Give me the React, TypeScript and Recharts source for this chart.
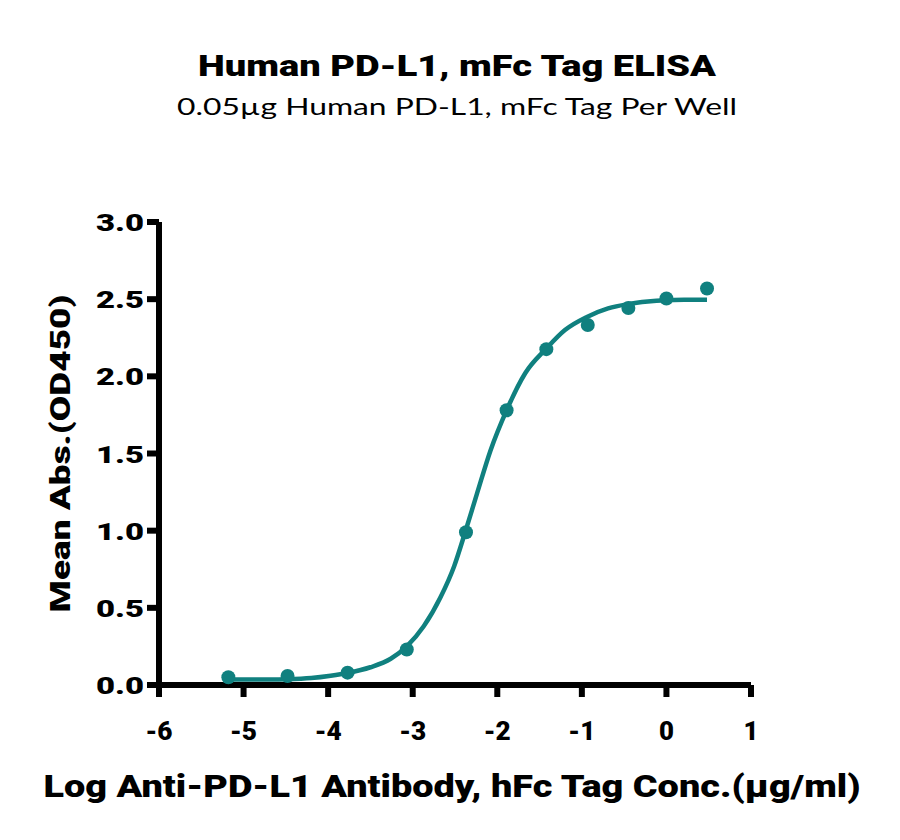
import React from "react";
import { ComposedChart, Line, Scatter, XAxis, YAxis, Label } from "recharts";

// measured ELISA points (log conc vs OD450)
const pointX = [-5.18, -4.48, -3.77, -3.07, -2.37, -1.89, -1.42, -0.93, -0.45, 0.0, 0.48];
const pointY = [0.05, 0.058, 0.08, 0.23, 0.99, 1.78, 2.176, 2.333, 2.443, 2.504, 2.569];

// fitted curve
const curveX = [
  -5.18, -4.8, -4.48, -4.2, -3.97, -3.77, -3.5, -3.26, -3.07, -2.87, -2.67, -2.51, -2.38,
  -2.24, -2.08, -1.89, -1.67, -1.42, -1.2, -0.94, -0.69, -0.46, -0.22, 0, 0.25, 0.48,
];
const curveY = [
  0.035, 0.036, 0.038, 0.045, 0.06, 0.078, 0.115, 0.17, 0.25, 0.38, 0.57, 0.77, 0.99,
  1.24, 1.52, 1.78, 2.02, 2.18, 2.3, 2.385, 2.44, 2.468, 2.485, 2.493, 2.496, 2.497,
];

const xTicks = [-6, -5, -4, -3, -2, -1, 0, 1];
const yTicks = [0, 0.5, 1, 1.5, 2, 2.5, 3];

const TEAL = "#10807f";
const BOLD = "Roboto, 'Noto Sans', sans-serif";
const FONT = "Lato, 'Noto Sans', sans-serif";

const points = pointX.map((x, i) => ({ x, y: pointY[i] }));
const curve = curveX.map((x, i) => ({ x, y: curveY[i] }));

const XTick = (props: any) => {
  const { x, y, payload } = props;
  const label = String(payload.value);
  return (
    <text
      x={x}
      y={y + 43}
      textAnchor="middle"
      fontFamily={BOLD}
      fontWeight={900}
      fontSize={25}
      fill="#000"
      textLength={label.length > 1 ? 27 : 15}
      lengthAdjust="spacingAndGlyphs"
    >
      {label}
    </text>
  );
};

const YTick = (props: any) => {
  const { x, y, payload } = props;
  return (
    <text
      x={x}
      y={y + 9}
      textAnchor="end"
      fontFamily={BOLD}
      fontWeight={900}
      fontSize={24}
      fill="#000"
      textLength={48}
      lengthAdjust="spacingAndGlyphs"
    >
      {payload.value.toFixed(1)}
    </text>
  );
};

const Dot = (props: any) => <circle cx={props.cx} cy={props.cy} r={7} fill={TEAL} />;

const axisStroke = { stroke: "#000", strokeWidth: 6 };

export default function App() {
  return (
    <div style={{ position: "absolute", left: 0, top: 0, width: 900, height: 840, background: "#fff" }}>
      <svg width={900} height={130} style={{ position: "absolute", left: 0, top: 0 }}>
        <text
          x={457}
          y={76}
          textAnchor="middle"
          fontFamily={BOLD}
          fontWeight={900}
          fontSize={29}
          textLength={518}
          lengthAdjust="spacingAndGlyphs"
        >
          Human PD-L1, mFc Tag ELISA
        </text>
        <text
          x={457}
          y={115}
          textAnchor="middle"
          fontFamily={FONT}
          fontSize={24}
          textLength={560}
          lengthAdjust="spacingAndGlyphs"
        >
          0.05µg Human PD-L1, mFc Tag Per Well
        </text>
      </svg>
      <div style={{ position: "absolute", left: 0, top: 0 }}>
        <ComposedChart width={900} height={840} margin={{ top: 222, right: 149, bottom: 95, left: 0 }}>
          <XAxis
            type="number"
            dataKey="x"
            domain={[-6, 1]}
            ticks={xTicks}
            height={60}
            tickSize={12}
            tickMargin={0}
            axisLine={axisStroke}
            tickLine={axisStroke}
            tick={<XTick />}
            allowDataOverflow
          >
            <Label
              content={() => (
                <text
                  x={452}
                  y={797}
                  textAnchor="middle"
                  fontFamily={BOLD}
                  fontWeight={900}
                  fontSize={32}
                  textLength={817}
                  lengthAdjust="spacingAndGlyphs"
                >
                  Log Anti-PD-L1 Antibody, hFc Tag Conc.(µg/ml)
                </text>
              )}
            />
          </XAxis>
          <YAxis
            type="number"
            domain={[0, 3]}
            ticks={yTicks}
            width={159}
            tickSize={12}
            tickMargin={3}
            axisLine={axisStroke}
            tickLine={axisStroke}
            tick={<YTick />}
          >
            <Label
              content={() => (
                <text
                  x={70}
                  y={453.5}
                  transform="rotate(-90 70 453.5)"
                  textAnchor="middle"
                  fontFamily={BOLD}
                  fontWeight={900}
                  fontSize={27}
                  textLength={318}
                  lengthAdjust="spacingAndGlyphs"
                >
                  Mean Abs.(OD450)
                </text>
              )}
            />
          </YAxis>
          <Line
            data={curve}
            dataKey="y"
            type="monotone"
            stroke={TEAL}
            strokeWidth={4.5}
            dot={false}
            activeDot={false}
            isAnimationActive={false}
          />
          <Scatter data={points} dataKey="y" fill={TEAL} shape={<Dot />} isAnimationActive={false} />
        </ComposedChart>
      </div>
    </div>
  );
}
